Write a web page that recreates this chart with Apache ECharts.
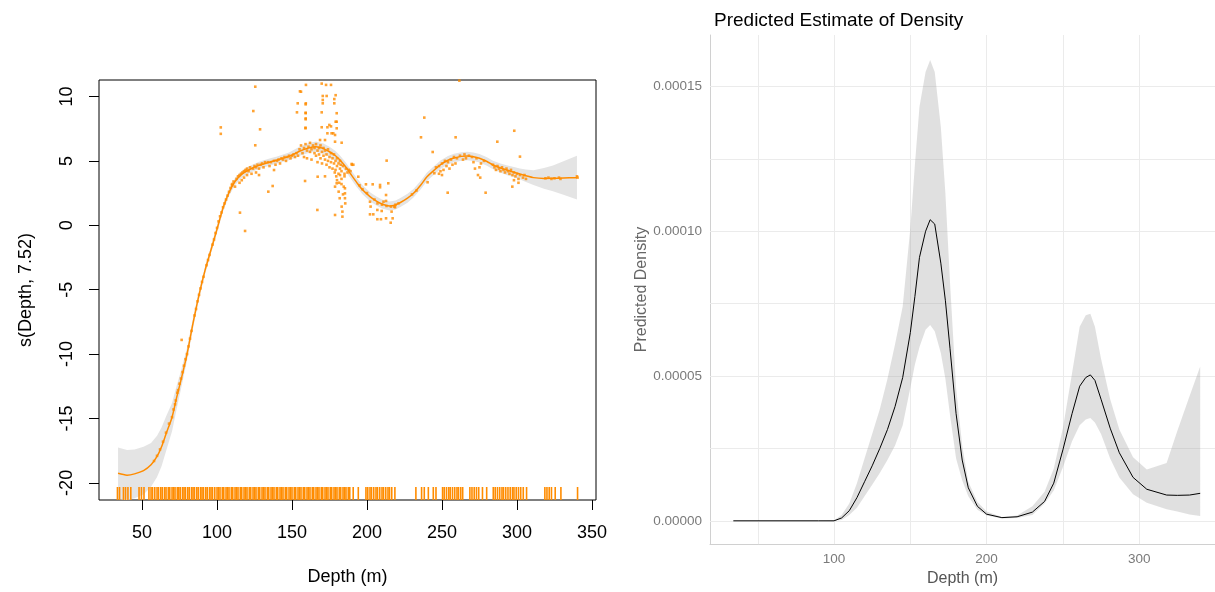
<!DOCTYPE html>
<html><head><meta charset="utf-8">
<script src="https://cdn.jsdelivr.net/npm/echarts@6/dist/echarts.min.js"></script>
<style>html,body{margin:0;padding:0;background:#fff}#c{width:1215px;height:592px}</style>
</head><body><div id="c"></div>
<script>
// ---------- LEFT PANEL: GAM smooth s(Depth, 7.52) ----------
const leftDepth = [34,40,45,51,56,60,63,66,70,73,76,80,84,88,92,96,100,104,108,112,117,122,128,135,140,148,155,161,166,171,175,179,182,186,189,193,197,202,206,210,215,219,222,227,231,236,240,245,249,254,258,263,267,271,275,280,284,289,293,298,302,306,311,318,324,331,340];
const leftFit = [-19.26,-19.4,-19.3,-19.05,-18.6,-17.95,-17.2,-16.2,-14.9,-13.4,-12.0,-10.0,-7.6,-5.4,-3.5,-1.9,-0.3,1.35,2.55,3.4,4.0,4.35,4.65,4.9,5.07,5.35,5.75,6.0,6.1,5.95,5.71,5.4,5.07,4.5,4.0,3.35,2.75,2.22,1.9,1.65,1.5,1.58,1.75,2.1,2.48,3.15,3.77,4.3,4.7,5.05,5.22,5.35,5.38,5.32,5.2,4.95,4.68,4.45,4.29,4.12,3.98,3.85,3.7,3.64,3.65,3.67,3.7];
const leftHalfWidth = [2.0,1.95,1.9,1.85,1.7,1.6,1.5,1.35,1.1,0.9,0.7,0.5,0.4,0.35,0.3,0.3,0.3,0.28,0.28,0.28,0.28,0.28,0.28,0.28,0.28,0.3,0.35,0.38,0.4,0.4,0.38,0.36,0.35,0.35,0.35,0.35,0.35,0.35,0.35,0.35,0.35,0.35,0.35,0.35,0.33,0.33,0.33,0.33,0.33,0.33,0.33,0.33,0.33,0.33,0.33,0.33,0.33,0.35,0.38,0.4,0.42,0.48,0.58,0.8,1.0,1.3,1.7];
const residualPoints = [
 [58,-18.3],[60,-17.9],[62,-17.4],[64,-16.8],[66,-16.1],[68,-15.4],[70,-14.9],[71,-14.3],[72,-13.9],[72.5,-13.6],[73.5,-13.0],[74,-12.8],[75,-12.3],[76,-11.9],[76.4,-8.9],[77,-11.4],[78,-10.9],[79,-10.4],[80,-10.0],[81,-9.4],[82,-8.8],[83,-8.2],[85,-7.0],[86,-6.5],[87,-5.9],[88,-5.4],[89,-4.9],[90,-4.4],[91,-4.0],[93,-3.1],[94,-2.7],[95,-2.3],[97,-1.5],[98,-1.1],[99,-0.6],[100,-0.2],[101,0.3],[102,0.7],[103,1.0],[104,1.4],[105,1.7],[106,2.0],[107,2.3],[108,2.6],[109,2.9],[110,3.1],
 [102.5,7.6],[102.5,7.1],[125.5,10.76],[124.2,8.87],[128.7,7.45],[125.5,6.21],[115.3,0.98],[118.7,-0.44],[134.2,2.61],[137.1,3.05],[138,4.29],[126,4.1],[128,3.9],
 [110,3.2],[111,3.4],[112,3.0],[113,3.6],[114,3.8],[115,3.3],[115,3.9],[116,4.0],[116.5,3.5],[117,4.1],[118,3.7],[118,4.2],[119,4.3],[120,4.4],[120,3.9],[121,4.2],[122,4.5],[123,4.0],[124,4.4],[125,4.6],[126,4.5],[127,4.7],[128,4.4],[129,4.7],[130,4.8],[131,4.5],[132,4.9],[134,4.9],[135,4.6],[136,4.9],[138,5.0],[139,4.7],[140,5.0],[141,5.1],[142,4.8],[143,5.2],[144,5.1],[145,5.3],[146,5.0],[147,5.3],[148,5.4],[149,5.2],[150,5.4],[151,5.5],[152,5.3],[153,5.6],[154,5.4],
 [155,5.9],[156,6.2],[157,5.6],[158,6.0],[158,5.3],[159,6.3],[160,5.8],[160,5.2],[161,6.1],[162,5.7],[162,6.4],[163,5.9],[163,5.1],[164,6.2],[165,5.6],[165,6.0],[166,5.4],[166,6.3],[167,5.8],[167,4.9],[168,6.0],[168,5.5],[169,5.2],[169,6.2],[170,5.7],[170,4.8],[171,5.4],[171,6.0],[172,5.1],[172,5.8],[173,4.7],[173,5.5],[174,5.9],[174,5.0],[175,5.3],[175,4.5],[176,5.6],[176,4.9],[177,5.2],[177,4.4],[178,5.5],[178,4.8],[178.5,4.1],[179,5.0],[179,4.3],[179.5,3.8],[180,4.6],[180,5.2],[180,3.5],[181,4.0],[181,4.8],[181.5,3.3],[182,4.4],[182,3.9],[182,5.0],[183,3.6],[183,4.2],[184,4.6],[185,4.0],[186,4.4],[187,4.1],[188,4.3],[189,4.2],[190,4.7],
 [182.5,4.7],[183,3.2],[184,2.4],[184.5,3.0],[185,3.8],[185.5,1.7],
 [159.3,10.9],[169.8,11.0],[172.7,10.9],[176,10.9],[155.3,10.4],[159.2,9.47],[170.5,10.04],[173.1,10.04],[170.5,9.73],[170.5,9.47],[179.1,10.1],[178.2,9.8],[178.2,9.47],[159.1,8.74],[159.1,8.23],[159,7.58],[169.8,8.77],[179.8,8.7],[179.8,8.04],[179.8,7.53],[169.8,7.61],[173.6,7.61],[174.9,7.79],[176,7.68],[177.5,7.14],[173.6,7.14],[176.4,7.14],[179.1,8.04],[178.7,7.01],[183.1,6.41],[178.7,6.49],[168.7,6.62],[172,6.62],[189.8,4.76],[194.2,3.77],[158.7,3.44],[166.9,1.19],[178.7,0.8],[183.6,0.67],[183.6,1.06],[183.1,1.45],[181.8,2.1],[185.3,2.1],[185.3,2.48],[185.3,2.87],[178.7,3.0],[181.1,2.61],[179.8,3.26],[167.1,3.77],[172,3.8],[190.9,4.7],[156,10.37],[153.8,9.47],[153.3,8.77],[159.1,9.39],[159.1,8.7],[159.1,8.3],[159,7.53],
 [199.3,3.18],[203.8,3.18],[208.7,3.13],[208.7,2.95],[214.2,3.26],[213.1,5.02],[212.7,2.35],[202,1.83],[202.4,1.45],[202,0.85],[204.2,0.85],[206.9,0.47],[209.3,0.47],[206.9,1.19],[209.8,1.11],[212.7,0.54],[215.8,0.2],[217.1,0.54],[216.4,1.06],[218.7,1.4],[218.2,1.45],[212.7,1.89],[211,1.83],[205,2.0],[207,1.7],[210,1.6],[213,1.5],[216,1.45],[219,1.6],[221,1.7],[200,2.5],[197,2.8],[195,3.1],
 [238.2,8.36],[236,6.83],[243.8,5.69],[259.1,6.83],[261.6,11.23],[253.8,2.53],[240.4,3.34],[244.9,4.04],[230,2.4],[233,2.7],[246,4.5],[248,4.6],[249,4.2],[250,4.8],[251,4.3],[252,5.0],[253,4.6],[254,4.9],[255,4.4],[256,5.1],[257,4.7],[258,5.3],[259,4.8],[260,5.2],[248,4.0],[250,3.9],
 [286.9,6.49],[298.2,7.34],[302,5.33],[279.1,2.53],[296.9,3.0],[262,5.4],[264,5.1],[265,5.5],[266,5.2],[268,5.4],[270,5.3],[271,4.9],[273,5.2],[275,4.5],[276,4.8],[278,5.0],[272,4.4],[274,3.9],[275.5,3.7],[284,4.7],[285,4.5],[286,4.3],[287,4.6],[288,4.4],[289,4.2],[290,4.5],[291,4.3],[292,4.1],[293,4.4],[294,4.2],[295,4.0],[296,4.3],[297,3.9],[298,4.1],[299,3.8],[300,4.0],[301,3.6],[302,3.9],[304,3.7],[305,3.9],[306,3.6],[298,3.5],[301,3.3],[319,3.65],[321,3.7],[323,3.6],[325,3.65],[328,3.7],[329,3.6],[340.4,3.7],[340,3.8]
];
const rugDepth = [33.6,35,37.6,39,40.6,42.5,48,49.6,51.3,54.6,56,57,58.5,60,61,62.5,63.5,65,66,67.5,68.5,70,71,72,73.5,74.5,75.5,77,78,79,80.5,81.5,83,84,85,86.5,87.5,89,90,91,92.5,93.5,95,96,97,98.5,100,101,102,103.5,104.5,106,107,108,109.5,110.5,112,113,114,115.5,116.5,118,119,120,121.5,122.5,124,125,126,127.5,128.5,130,131,132,133.5,134.5,136,137,138,139.5,140.5,142,143,144,145.5,146.5,148,149,150,151.5,152.5,154,155,156,157.5,158.5,160,161,162,163.5,164.5,166,167,168,169.5,170.5,172,173,174,175.5,176.5,178,179,180,181.5,182.5,184,185,186,187.5,188.5,190.8,194.2,199.3,200.5,202,203,204.5,206,207,208.5,210,211,212.5,214,215,216.5,218.6,232.6,236.4,238.2,240.9,244.2,246,250.4,251.5,253,254.5,255.5,257,258.5,260,261,262.5,263.8,268.6,270,271.5,273,274.5,277,279.8,284.2,285.5,287,288.5,290,291,292.5,294,295.5,297,298,299.5,301,302.5,304.2,306.4,318.6,320,321.5,323,325.5,329.3,340.4];
const leftXTicks = [50,100,150,200,250,300,350];
const leftYTicks = [-20,-15,-10,-5,0,5,10];

// ---------- RIGHT PANEL: predicted density (values in units of 1e-5) ----------
const rightDepth = [34,60,90,100,105,110,115,120,125,130,135,140,145,150,153,156,160,163,166,170,173,176,180,184,188,194,200,210,220,230,238,244,250,256,261,265,268,271,275,281,287,296,305,318,325,333,340];
const densityE5 = [0,0,0,0,0.1,0.35,0.8,1.35,1.9,2.5,3.15,3.95,4.95,6.5,7.75,9.1,10.0,10.4,10.25,8.9,7.6,5.96,3.7,2.1,1.14,0.5,0.23,0.11,0.14,0.3,0.67,1.3,2.45,3.7,4.65,4.95,5.04,4.85,4.2,3.2,2.35,1.5,1.09,0.89,0.88,0.89,0.95];
const upperE5 = [0,0,0,0.02,0.2,0.6,1.3,2.15,3.0,3.85,4.9,6.1,7.4,10.1,12.3,14.3,15.5,15.92,15.5,13.6,11.3,8.25,4.6,2.6,1.35,0.65,0.32,0.13,0.18,0.5,1.0,1.8,3.2,5.1,6.7,7.1,7.15,6.7,5.6,4.2,3.15,2.2,1.77,2.0,3.1,4.3,5.33];
const lowerE5 = [0,0,0,0,0.03,0.2,0.45,0.85,1.25,1.65,2.1,2.6,3.3,4.6,5.4,6.0,6.6,6.76,6.55,5.8,4.9,3.66,2.15,1.4,0.85,0.38,0.18,0.08,0.1,0.2,0.6,1.05,1.85,2.75,3.3,3.5,3.55,3.4,3.0,2.15,1.5,0.92,0.62,0.4,0.32,0.22,0.17];
const rightXTicks = [100,200,300];
const rightYTicksE5 = [0,5,10,15];
const rightGridX = [50,100,150,200,250,300];
const rightGridY = [0,2.5,5,7.5,10,12.5,15];

// ---------- build ----------
const FONT = "'Liberation Sans', Arial, sans-serif";
const ORANGE = '#FF8C00';
const L_YMIN = -21.33, L_YMAX = 11.28;

// band polygon through the axis scales (api.coord)
function bandSeries(xi, yi, xs, lo, hi, fill, z){
  return {type:'custom', xAxisIndex:xi, yAxisIndex:yi, z:z, silent:true, clip:true,
    itemStyle:{color:fill},
    data:[[xs[0], lo[0]]],
    renderItem:(params, api)=>{
      const pts = [];
      for (let i=0;i<xs.length;i++) pts.push(api.coord([xs[i], hi[i]]));
      for (let i=xs.length-1;i>=0;i--) pts.push(api.coord([xs[i], lo[i]]));
      return {type:'polygon', shape:{points:pts}, style:{fill:fill, stroke:null}};
    }};
}
const leftLo = leftFit.map((f,i)=>f-leftHalfWidth[i]);
const leftHi = leftFit.map((f,i)=>f+leftHalfWidth[i]);

const chart = echarts.init(document.getElementById('c'), null, {renderer:'canvas'});
chart.setOption({
  animation:false,
  backgroundColor:'#fff',
  textStyle:{fontFamily:FONT},
  title:{text:'Predicted Estimate of Density', left:709, top:6,
    textStyle:{fontSize:19, fontWeight:'normal', color:'#000', fontFamily:FONT}},
  grid:[
    {left:99, top:80, width:497, height:420, show:true, borderColor:'#000', borderWidth:1, backgroundColor:'transparent', containLabel:false},
    {left:710, top:35, width:505, height:511.7, show:false, containLabel:false}
  ],
  xAxis:[
    {type:'value', gridIndex:0, min:21.3, max:352.7,
     name:'Depth (m)', nameLocation:'middle', nameGap:68,
     nameTextStyle:{fontSize:18, color:'#000', fontFamily:FONT},
     axisLine:{show:false, onZero:false}, splitLine:{show:false},
     axisTick:{show:true, inside:false, length:10, lineStyle:{color:'#000'}, customValues:leftXTicks},
     axisLabel:{fontSize:18, color:'#000', margin:24, fontFamily:FONT, customValues:leftXTicks}},
    {type:'value', gridIndex:1, min:18.7, max:349.7,
     name:'Depth (m)', nameLocation:'middle', nameGap:23,
     nameTextStyle:{fontSize:16, color:'#555', fontFamily:FONT},
     axisLine:{show:true, onZero:false, lineStyle:{color:'#d0d0d0', width:1}}, splitLine:{show:false},
     axisTick:{show:false},
     axisLabel:{fontSize:13.5, color:'#7a7a7a', margin:8, fontFamily:FONT, customValues:rightXTicks}}
  ],
  yAxis:[
    {type:'value', gridIndex:0, min:L_YMIN, max:L_YMAX,
     name:'s(Depth, 7.52)', nameLocation:'middle', nameGap:64,
     nameTextStyle:{fontSize:18, color:'#000', fontFamily:FONT},
     axisLine:{show:false, onZero:false}, splitLine:{show:false},
     axisTick:{show:true, inside:false, length:10, lineStyle:{color:'#000'}, customValues:leftYTicks},
     axisLabel:{fontSize:18, color:'#000', margin:23, rotate:90, fontFamily:FONT, customValues:leftYTicks}},
    {type:'value', gridIndex:1, min:-0.804, max:16.78,
     name:'Predicted Density', nameLocation:'middle', nameGap:58,
     nameTextStyle:{fontSize:16, color:'#666', fontFamily:FONT},
     axisLine:{show:true, onZero:false, lineStyle:{color:'#d0d0d0', width:1}}, splitLine:{show:false},
     axisTick:{show:false},
     axisLabel:{fontSize:13.5, color:'#7a7a7a', margin:8, fontFamily:FONT, customValues:rightYTicksE5,
       formatter:v=>(v*1e-5).toFixed(5)}}
  ],
  series:[
    bandSeries(0, 0, leftDepth, leftLo, leftHi, '#e4e4e4', 1),
    {type:'scatter', xAxisIndex:0, yAxisIndex:0, data:rugDepth.map(d=>[d, L_YMIN]), z:2, silent:true,
     clip:false, symbol:'rect', symbolSize:[1.6, 13], symbolOffset:[0, -6.5],
     itemStyle:{color:ORANGE, opacity:1}},
    {type:'line', xAxisIndex:0, yAxisIndex:0, data:leftDepth.map((d,i)=>[d, leftFit[i]]),
     symbol:'none', smooth:0.3, lineStyle:{color:ORANGE, width:1.5}, z:3, silent:true},
    {type:'scatter', xAxisIndex:0, yAxisIndex:0, data:residualPoints, symbol:'rect', symbolSize:2.6,
     itemStyle:{color:ORANGE}, z:4, silent:true},

    {type:'line', xAxisIndex:1, yAxisIndex:1, data:[], silent:true,
     markLine:{silent:true, symbol:'none', z:1, label:{show:false},
       lineStyle:{color:'#ebebeb', width:1, type:'solid'},
       data:[...rightGridX.map(v=>({xAxis:v})), ...rightGridY.map(v=>({yAxis:v}))]}},
    bandSeries(1, 1, rightDepth, lowerE5, upperE5, 'rgba(153,153,153,0.3)', 2),
    {type:'line', xAxisIndex:1, yAxisIndex:1, data:rightDepth.map((d,i)=>[d, densityE5[i]]),
     symbol:'none', lineStyle:{color:'#000', width:1}, z:3, silent:true}
  ]
});
</script></body></html>
